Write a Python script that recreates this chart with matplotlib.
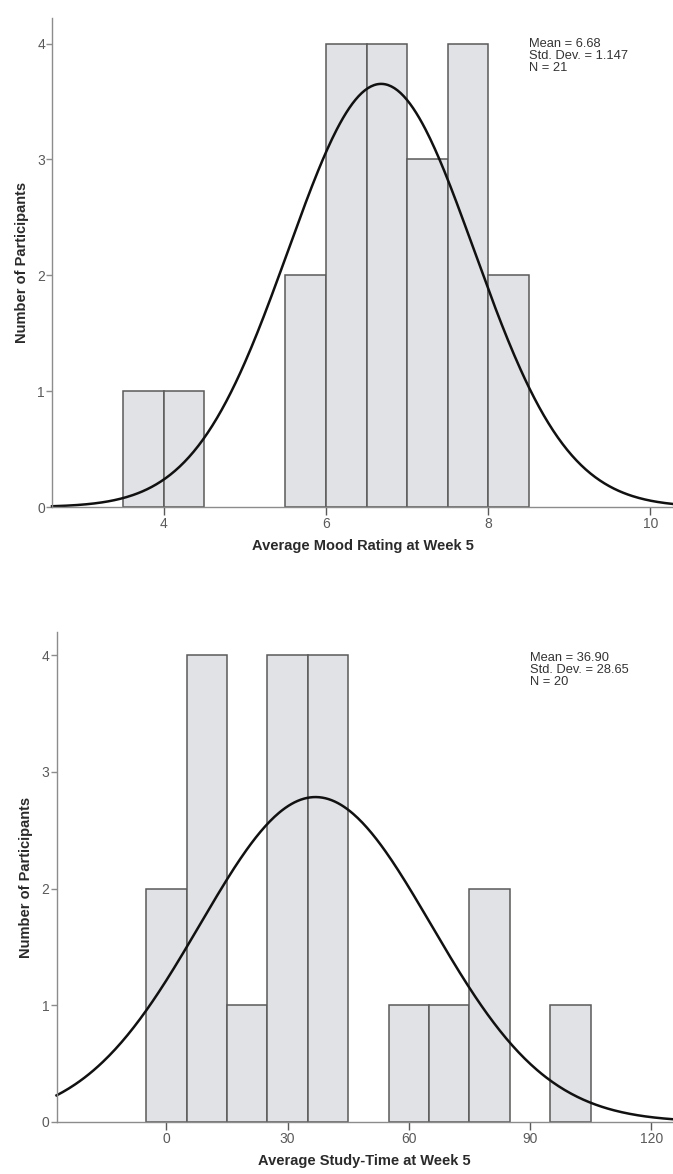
import numpy as np
import matplotlib
matplotlib.use("Agg")
import matplotlib.pyplot as plt
from matplotlib import font_manager

# Histogram bins (left edge of first bin, bin width) and counts per bin
mood_start, mood_width = 3.5, 0.5
mood_counts = [1, 1, 0, 0, 2, 4, 4, 3, 4, 2]
mood_mean, mood_sd, mood_n = 6.68, 1.147, 21
mood_ticks = [4, 6, 8, 10]

study_start, study_width = -5, 10
study_counts = [2, 4, 1, 4, 4, 0, 1, 1, 2, 0, 1]
study_mean, study_sd, study_n = 36.90, 28.65, 20
study_ticks = [0, 30, 60, 90, 120]

installed = {f.name for f in font_manager.fontManager.ttflist}
narrow = "Liberation Sans Narrow" if "Liberation Sans Narrow" in installed else "Liberation Sans"
plt.rcParams['font.family'] = [narrow, 'DejaVu Sans']

BAR_FILL = "#e1e2e6"
BAR_EDGE = "#5a5a5a"
SPINE = "#8c8c8c"
TICK_TXT = "#5a5a5a"


def histogram(ax, start, width, counts, mean, sd, n, ticks, xlim, ylim, xlabel, stats_lines):
    counts = np.array(counts)
    lefts = start + width * np.arange(len(counts))
    keep = counts > 0
    ax.bar(lefts[keep], counts[keep], width=width, align='edge',
           color=BAR_FILL, edgecolor=BAR_EDGE, linewidth=1.1, zorder=2)

    # fitted normal curve, scaled to counts per bin
    xs = np.linspace(xlim[0], xlim[1], 400)
    ys = n * width / (sd * np.sqrt(2 * np.pi)) * np.exp(-0.5 * ((xs - mean) / sd) ** 2)
    ax.plot(xs, ys, color="#111111", linewidth=1.8, zorder=3, clip_on=False)

    ax.set_xlim(*xlim)
    ax.set_ylim(*ylim)
    ax.set_xticks(ticks)
    ax.set_yticks([0, 1, 2, 3, 4])
    for s in ("top", "right"):
        ax.spines[s].set_visible(False)
    for s in ("left", "bottom"):
        ax.spines[s].set_color(SPINE)
        ax.spines[s].set_linewidth(1.0)
        ax.spines[s].set_zorder(4)
    ax.tick_params(axis='x', length=6, width=1.0, color=BAR_EDGE, pad=1,
                   labelsize=10, labelcolor=TICK_TXT)
    ax.tick_params(axis='y', length=4, width=1.0, color=SPINE, pad=1,
                   labelsize=10, labelcolor=TICK_TXT)
    ax.set_xlabel(xlabel, fontsize=10.5, fontweight='bold', color="#2a2a2a",
                  family=['Liberation Sans', 'DejaVu Sans'], labelpad=6)
    ax.set_ylabel("Number of Participants", fontsize=10.5, fontweight='bold',
                  color="#2a2a2a", family=['Liberation Sans', 'DejaVu Sans'], labelpad=6)
    ax.text(0.768, 0.96, "\n".join(stats_lines), transform=ax.transAxes,
            fontsize=9.3, color="#333333", va='top', ha='left', linespacing=1.0,
            family=['Liberation Sans', 'DejaVu Sans'])


fig = plt.figure(figsize=(6.73, 11.74), dpi=100)
ax1 = fig.add_axes([0.0773, 0.5681, 0.9227, 0.4165])
ax2 = fig.add_axes([0.084, 0.0443, 0.916, 0.4174])

histogram(ax1, mood_start, mood_width, mood_counts, mood_mean, mood_sd, mood_n,
          mood_ticks, (2.62, 10.28), (0, 4.22), "Average Mood Rating at Week 5",
          ["Mean = 6.68", "Std. Dev. = 1.147", "N = 21"])
histogram(ax2, study_start, study_width, study_counts, study_mean, study_sd, study_n,
          study_ticks, (-27.2, 125.4), (0, 4.2), "Average Study-Time at Week 5",
          ["Mean = 36.90", "Std. Dev. = 28.65", "N = 20"])

fig.savefig("out.png", dpi=100)
